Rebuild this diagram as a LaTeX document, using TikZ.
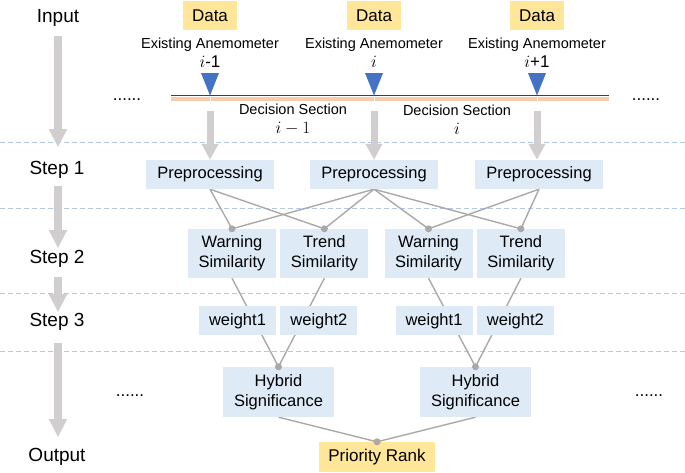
\documentclass[tikz,border=0pt]{standalone}
\usepackage{fontspec}
\setmainfont{Liberation Sans}
\usepackage{tikz}
\usetikzlibrary{arrows.meta,positioning,backgrounds}
\definecolor{boxblue}{HTML}{DEEBF7}
\definecolor{datayellow}{HTML}{FFE699}
\definecolor{linkgray}{HTML}{ABA8A8}
\definecolor{arrowgray}{HTML}{D0CECE}
\definecolor{dashblue}{HTML}{B4C7E7}
\definecolor{sensorblue}{HTML}{4472C4}
\definecolor{trackdark}{HTML}{404040}
\definecolor{trackband}{HTML}{F8CBAD}
\newcommand{\nl}{\\}
\newcommand{\idx}[1]{{\fontsize{17}{18.5}\selectfont#1}}

\begin{document}
\begin{tikzpicture}[x=1pt,y=-1pt,
  box/.style={rectangle,inner sep=0pt,minimum height=29pt,align=center,fill=boxblue,
    font=\fontsize{16.5}{20}\selectfont,text=black},
  simbox/.style={box,minimum width=88pt,minimum height=49pt},
  wbox/.style={box,minimum width=77pt},
  hybbox/.style={box,minimum width=111pt,minimum height=50pt},
  databox/.style={box,fill=datayellow,minimum width=54pt,font=\fontsize{17}{20}\selectfont},
  sidelbl/.style={inner sep=0pt,font=\fontsize{19}{22}\selectfont},
  note/.style={inner sep=0pt,align=center,font=\fontsize{14.5}{18.5}\selectfont},
  etc/.style={inner sep=0pt,anchor=base,font=\fontsize{17}{20}\selectfont},
  bigarr/.style={-{Triangle[length=18pt,width=17pt]},color=arrowgray,line width=7.5pt},
  smallarr/.style={-{Triangle[length=16pt,width=16pt]},color=arrowgray,line width=7pt},
  link/.style={color=linkgray,line width=1.4pt},
  jdot/.style={fill=linkgray},
  sep/.style={color=dashblue,line width=0.8pt,dash pattern=on 5pt off 3pt},
]
  \useasboundingbox (0,0) rectangle (685,472);

  % left column
  \node[sidelbl] (lin)  at (58,18)  {Input};
  \node[sidelbl] (ls1)  at (57,170) {Step 1};
  \node[sidelbl] (ls2)  at (57,259) {Step 2};
  \node[sidelbl] (ls3)  at (57,322) {Step 3};
  \node[sidelbl] (lout) at (57,457) {Output};
  \draw[bigarr,shorten <=9pt,shorten >=14pt] (lin.south) -- (lin.south |- ls1.north);
  \draw[bigarr,shorten <=7pt,shorten >=2pt]  (lin.south |- ls1.south) -- (lin.south |- ls2.north);
  \draw[bigarr,shorten <=9pt,shorten >=1pt]  (lin.south |- ls2.south) -- (lin.south |- ls3.north);
  \draw[bigarr,shorten <=12pt,shorten >=11pt] (lin.south |- ls3.south) -- (lin.south |- lout.north);

  % input data and anemometers
  \node[databox] (d1) at (210,15.5) {Data};
  \node[databox] (d2) at (374,15.5) {Data};
  \node[databox] (d3) at (537,15.5) {Data};
  \node[note] (a1) at (210,52.5) {Existing Anemometer\nl \idx{$i$-1}};
  \node[note] (a2) at (374,52.5) {Existing Anemometer\nl \idx{$i$}};
  \node[note] (a3) at (537,52.5) {Existing Anemometer\nl \idx{$i$+1}};

  % road with decision sections
  \draw[trackband,line width=4pt] (171,98.7) -- (609,98.7);
  \draw[trackdark,line width=1.2pt] (171,95.8) -- (609,95.8);
  \foreach \x/\n in {210/1,374/2,537/3}{
    \coordinate (t\n) at (\x,96);
    \draw[white,line width=1pt] (\x,96.5) -- (\x,101);
    \fill[sensorblue] (\x-9,73) -- (\x+9,73) -- (\x,95.5) -- cycle;
  }
  \node[note] (ds1) at (293,119.5) {Decision Section\nl \idx{$i-1$}};
  \node[note] (ds2) at (457,119.5) {Decision Section\nl \idx{$i$}};
  \node[etc] (e1) at (127,100) {......};
  \node[etc] (e2) at (646,100) {......};

  % step 1
  \node[box,minimum width=128pt] (p1) at (210,174.5) {Preprocessing};
  \node[box,minimum width=128pt] (p2) at (374,174.5) {Preprocessing};
  \node[box,minimum width=128pt] (p3) at (539,174.5) {Preprocessing};
  \draw[smallarr,shorten <=15pt] (t1) -- (t1 |- p1.north);
  \draw[smallarr,shorten <=15pt] (t2) -- (t2 |- p2.north);
  \draw[smallarr,shorten <=15pt] (t3) -- (t3 |- p3.north);

  % step 2
  \node[simbox] (w1) at (232,253.5) {Warning\nl Similarity};
  \node[simbox,right=4pt of w1] (s1) {Trend\nl Similarity};
  \node[simbox] (w2) at (428.5,253.5) {Warning\nl Similarity};
  \node[simbox,right=4pt of w2] (s2) {Trend\nl Similarity};

  % step 3
  \node[wbox,anchor=north east] (g1) at ([yshift=-28pt]w1.south east) {weight1};
  \node[wbox,anchor=north west] (g2) at ([yshift=-28pt]s1.south west) {weight2};
  \node[wbox,anchor=north east] (g3) at ([yshift=-28pt]w2.south east) {weight1};
  \node[wbox,anchor=north west] (g4) at ([yshift=-28pt]s2.south west) {weight2};

  % output
  \node[hybbox] (h1) at (278.5,392) {Hybrid\nl Significance};
  \node[hybbox] (h2) at (475.5,392) {Hybrid\nl Significance};
  \node[databox,minimum width=116pt,minimum height=30pt] (pr) at (377,457) {Priority Rank};
  \node[etc] (e3) at (130,396) {......};
  \node[etc] (e4) at (649,396) {......};

  \begin{scope}[on background layer]
    \foreach \y in {142,208,293,351}
      \draw[sep] (0,\y) -- (685,\y);
    \draw[link] (p1.south) -- (w1.north);
    \draw[link] (p1.south) -- (s1.north);
    \draw[link] (p2.south) -- (w1.north);
    \draw[link] (p2.south) -- (s1.north);
    \draw[link] (p2.south) -- (w2.north);
    \draw[link] (p2.south) -- (s2.north);
    \draw[link] (p3.south) -- (w2.north);
    \draw[link] (p3.south) -- (s2.north);
    \draw[link] (w1.south) -- (h1.north);
    \draw[link] (s1.south) -- (h1.north);
    \draw[link] (w2.south) -- (h2.north);
    \draw[link] (s2.south) -- (h2.north);
    \draw[link] (h1.south) -- (pr.north);
    \draw[link] (h2.south) -- (pr.north);
  \end{scope}
  \foreach \n in {w1,s1,w2,s2,h1,h2,pr}
    \fill[jdot] (\n.north) circle (3.5pt);
\end{tikzpicture}
\end{document}
